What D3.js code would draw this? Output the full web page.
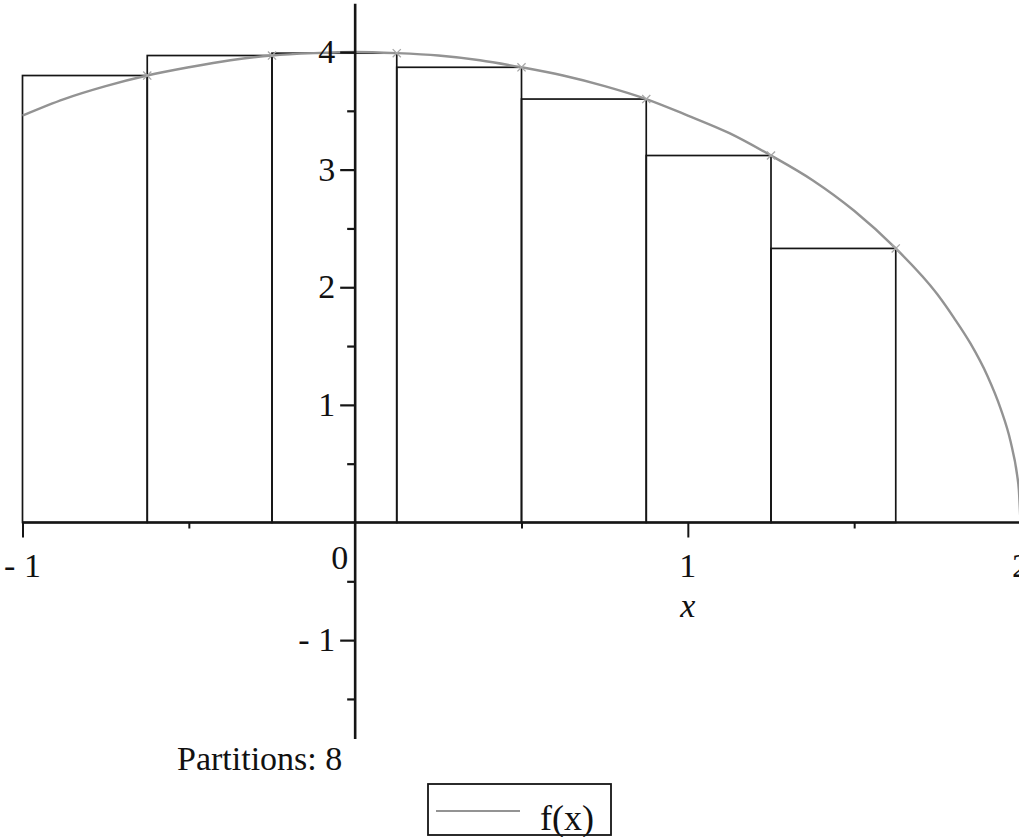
<!DOCTYPE html>
<html>
<head>
<meta charset="utf-8">
<script src="https://cdn.jsdelivr.net/npm/d3@7"></script>
<style>
  html, body { margin: 0; padding: 0; background: #fff; overflow: hidden; }
  svg { display: block; }
  text { font-family: "Liberation Serif", "Times New Roman", serif; fill: #111; }
</style>
</head>
<body>
<svg id="chart" width="1019" height="837"></svg>
<script>
// Partition edges of [-1, 2] (8 subintervals)
const partitionEdges = [-1, -0.625, -0.25, 0.125, 0.5, 0.875, 1.25, 1.625, 2];
// Rectangle heights (right-endpoint values of f)
const barHeights = [3.80, 3.97, 3.99, 3.87, 3.60, 3.12, 2.33, 0];

// Sampled curve f(x)
const curveX = [-1, -0.875, -0.75, -0.625, -0.5, -0.375, -0.25, -0.125, 0, 0.125, 0.25, 0.375,
                0.5, 0.625, 0.75, 0.875, 1, 1.125, 1.25, 1.375, 1.5, 1.625, 1.75, 1.8, 1.85,
                1.9, 1.94, 1.97, 1.99, 1.995, 2];
const curveY = [3.46, 3.60, 3.71, 3.80, 3.87, 3.93, 3.97, 3.99, 4.00, 3.99, 3.97, 3.93,
                3.87, 3.80, 3.71, 3.60, 3.46, 3.31, 3.12, 2.91, 2.65, 2.33, 1.94, 1.74, 1.52,
                1.25, 0.97, 0.69, 0.40, 0.28, 0];

// Tick positions and labels
const xMajorTicks = [-1, 0, 1, 2];
const xMajorLabels = ["- 1", "0", "1", "2"];
const xMinorTicks = [-0.5, 0.5, 1.5];
const yMajorTicks = [-1, 1, 2, 3, 4];
const yMajorLabels = ["- 1", "1", "2", "3", "4"];
const yMinorTicks = [-1.5, -0.5, 0.5, 1.5, 2.5, 3.5];

const partitionLabel = "Partitions: 8";
const legendLabel = "f(x)";

const svg = d3.select("#chart");

const x = d3.scaleLinear().domain([-1, 2]).range([22.5, 1020.5]);
const y = d3.scaleLinear().domain([0, 4]).range([522.5, 52]);
const yAxisExtent = [-1.84, 4.41];

const ink = "#151515";
const curveColor = "#939393";

// Rectangles
const bars = barHeights.map((h, i) => ({ x0: partitionEdges[i], x1: partitionEdges[i + 1], h }));
svg.append("g").selectAll("rect")
  .data(bars.filter(d => d.h > 0))
  .join("rect")
  .attr("x", d => x(d.x0))
  .attr("y", d => y(d.h))
  .attr("width", d => x(d.x1) - x(d.x0))
  .attr("height", d => y(0) - y(d.h))
  .attr("fill", "none")
  .attr("stroke", ink)
  .attr("stroke-width", 1.7);

// Curve
const line = d3.line().x(d => x(d[0])).y(d => y(d[1])).curve(d3.curveMonotoneX);
svg.append("path")
  .datum(curveX.map((v, i) => [v, curveY[i]]))
  .attr("d", line)
  .attr("fill", "none")
  .attr("stroke", curveColor)
  .attr("stroke-width", 2.4);

// Small cross markers where rectangle tops meet the curve
const markerPts = bars.filter(d => d.h > 0).map(d => [d.x1, d.h]);
const sym = d3.symbol().type(d3.symbolX).size(45);
svg.append("g").selectAll("path")
  .data(markerPts)
  .join("path")
  .attr("transform", d => `translate(${x(d[0])},${y(d[1])})`)
  .attr("d", sym)
  .attr("fill", "none")
  .attr("stroke", "#a8a8a8")
  .attr("stroke-width", 1.3);

// X axis: line, major ticks and minor ticks
const xAxisG = svg.append("g").attr("transform", `translate(0,${y(0)})`);
xAxisG.append("g")
  .call(d3.axisBottom(x).tickValues(xMajorTicks.filter(v => v !== 0)).tickSize(15).tickFormat("").tickSizeOuter(0))
  .call(g => g.select(".domain").remove())
  .call(g => g.selectAll("line").attr("stroke", ink).attr("stroke-width", 2));
xAxisG.append("g")
  .call(d3.axisBottom(x).tickValues(xMinorTicks).tickSize(6).tickFormat("").tickSizeOuter(0))
  .call(g => g.select(".domain").remove())
  .call(g => g.selectAll("line").attr("stroke", ink).attr("stroke-width", 2));
xAxisG.append("line")
  .attr("x1", x(-1)).attr("x2", 1019)
  .attr("stroke", ink).attr("stroke-width", 2.6);

// Y axis
const yAxisG = svg.append("g").attr("transform", `translate(${x(0)},0)`);
yAxisG.append("g")
  .call(d3.axisLeft(y).tickValues(yMajorTicks).tickSize(15).tickFormat("").tickSizeOuter(0))
  .call(g => g.select(".domain").remove())
  .call(g => g.selectAll("line").attr("stroke", ink).attr("stroke-width", 2.2));
yAxisG.append("g")
  .call(d3.axisLeft(y).tickValues(yMinorTicks).tickSize(8).tickFormat("").tickSizeOuter(0))
  .call(g => g.select(".domain").remove())
  .call(g => g.selectAll("line").attr("stroke", ink).attr("stroke-width", 2.2));
yAxisG.append("line")
  .attr("y1", y(yAxisExtent[1])).attr("y2", y(yAxisExtent[0]))
  .attr("stroke", ink).attr("stroke-width", 2.6);

// Tick labels
const fontSize = 34;
svg.append("g").selectAll("text")
  .data(xMajorTicks)
  .join("text")
  .attr("x", d => d === 0 ? x(d) - 7 : x(d))
  .attr("y", d => d === 0 ? 569 : 577)
  .attr("text-anchor", d => d === 0 ? "end" : "middle")
  .attr("font-size", fontSize)
  .text((d, i) => xMajorLabels[i]);

svg.append("g").selectAll("text")
  .data(yMajorTicks)
  .join("text")
  .attr("x", x(0) - 20)
  .attr("y", d => y(d) + 11)
  .attr("text-anchor", "end")
  .attr("font-size", fontSize)
  .text((d, i) => yMajorLabels[i]);

// Axis title
svg.append("text")
  .attr("x", x(1))
  .attr("y", 617)
  .attr("text-anchor", "middle")
  .attr("font-size", fontSize)
  .attr("font-style", "italic")
  .text("x");

// Caption
svg.append("text")
  .attr("x", 177)
  .attr("y", 770)
  .attr("font-size", fontSize)
  .text(partitionLabel);

// Legend
const legend = svg.append("g").attr("transform", "translate(428,784)");
legend.append("rect")
  .attr("width", 183).attr("height", 51)
  .attr("fill", "#fff").attr("stroke", ink).attr("stroke-width", 1.8);
legend.append("line")
  .attr("x1", 8).attr("x2", 92).attr("y1", 27).attr("y2", 27)
  .attr("stroke", curveColor).attr("stroke-width", 2.2);
legend.append("text")
  .attr("x", 112).attr("y", 46)
  .attr("font-size", 36)
  .text(legendLabel);
</script>
</body>
</html>
